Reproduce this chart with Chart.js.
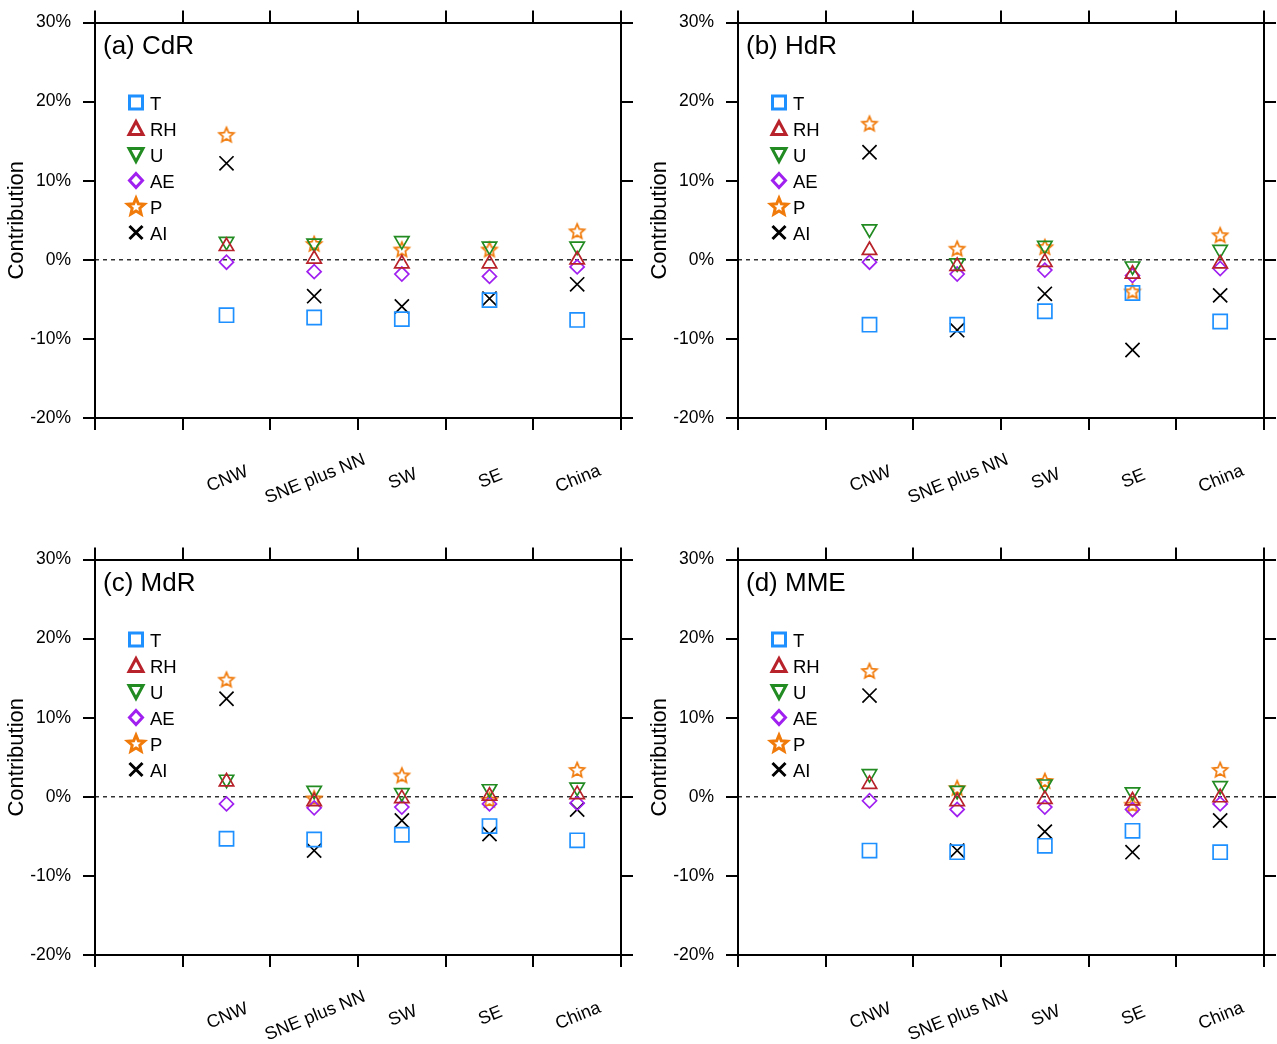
<!DOCTYPE html>
<html>
<head>
<meta charset="utf-8">
<script src="https://cdn.jsdelivr.net/npm/chart.js@4.4.0/dist/chart.umd.min.js"></script>
<style>
  html, body { margin: 0; padding: 0; background: #fff; }
  #wrap { position: relative; width: 1277px; height: 1044px; overflow: hidden; background: #fff; }
  canvas { position: absolute; display: block; }
</style>
</head>
<body>
<div id="wrap">
  <canvas id="cdr" width="640" height="522" style="left:0;top:0"></canvas>
  <canvas id="hdr" width="634" height="522" style="left:643px;top:0"></canvas>
  <canvas id="mdr" width="640" height="507" style="left:0;top:537px"></canvas>
  <canvas id="mme" width="634" height="507" style="left:643px;top:537px"></canvas>
</div>
<script>
// categories and tick labels
const categories = ['CNW', 'SNE plus NN', 'SW', 'SE', 'China']
const yTickValues = [-20, -10, 0, 10, 20, 30]
const varNames = ['T', 'RH', 'U', 'AE', 'P', 'AI']

// (a) CdR, contribution in %
const cdrT = [-7.0, -7.3, -7.5, -5.1, -7.6]
const cdrRH = [1.7, 0.1, -0.5, -0.5, 0.0]
const cdrU = [2.3, 2.1, 2.4, 1.7, 1.7]
const cdrAE = [-0.3, -1.5, -1.8, -2.1, -0.9]
const cdrP = [15.8, 2.0, 1.3, 1.3, 3.6]
const cdrAI = [12.2, -4.6, -5.9, -4.9, -3.1]

// (b) HdR
const hdrT = [-8.2, -8.2, -6.5, -4.2, -7.8]
const hdrRH = [1.2, -0.8, -0.3, -1.8, -0.5]
const hdrU = [3.9, -0.4, 1.8, -0.8, 1.3]
const hdrAE = [-0.3, -1.8, -1.3, -2.0, -1.1]
const hdrP = [17.2, 1.4, 1.6, -4.0, 3.1]
const hdrAI = [13.6, -8.9, -4.3, -11.4, -4.5]

// (c) MdR
const mdrT = [-5.3, -5.4, -4.8, -3.7, -5.5]
const mdrRH = [1.9, -0.6, -0.2, 0.1, 0.3]
const mdrU = [2.2, 0.8, 0.5, 1.0, 1.2]
const mdrAE = [-0.9, -1.4, -1.3, -0.9, -0.8]
const mdrP = [14.8, -0.2, 2.7, -0.4, 3.4]
const mdrAI = [12.4, -6.8, -3.0, -4.7, -1.6]

// (d) MME
const mmeT = [-6.8, -7.0, -6.2, -4.3, -7.0]
const mmeRH = [1.6, -0.6, -0.3, -0.5, -0.1]
const mmeU = [2.9, 0.8, 1.6, 0.6, 1.4]
const mmeAE = [-0.5, -1.6, -1.3, -1.6, -0.9]
const mmeP = [15.9, 1.1, 2.0, -1.0, 3.4]
const mmeAI = [12.8, -6.8, -4.4, -7.0, -3.0]

const FONT = "'Liberation Sans', Arial, Helvetica, sans-serif"

function starPath(g, cx, cy, ro, ri) {
  g.beginPath()
  for (let k = 0; k < 10; k++) {
    const r = k % 2 ? ri : ro
    const a = -Math.PI / 2 + k * Math.PI / 5
    const px = cx + r * Math.cos(a)
    const py = cy + r * Math.sin(a)
    if (k) g.lineTo(px, py); else g.moveTo(px, py)
  }
  g.closePath()
}

function starCanvas(color) {
  const c = document.createElement('canvas')
  c.width = 20
  c.height = 20
  const g = c.getContext('2d')
  starPath(g, 10, 10.5, 7.8, 3.6)
  g.lineWidth = 1.7
  g.strokeStyle = color
  g.stroke()
  return c
}

const markers = {
  T: { style: 'rect', radius: 10, rotation: 0, color: '#1E90FF' },
  RH: { style: 'triangle', radius: 8.3, rotation: 0, color: '#B8232B' },
  U: { style: 'triangle', radius: 8.3, rotation: 180, color: '#228B22' },
  AE: { style: 'rectRot', radius: 7, rotation: 0, color: '#A020F0' },
  P: { style: null, radius: 8, rotation: 0, color: '#F07A0A' },
  AI: { style: 'crossRot', radius: 10, rotation: 0, color: '#000000' }
}
markers.P.style = starCanvas(markers.P.color)

// legend marker, drawn bolder than in the plot
function drawLegendMarker(ctx, name, x, y) {
  const m = markers[name]
  ctx.save()
  ctx.strokeStyle = m.color
  ctx.lineWidth = 3
  ctx.beginPath()
  if (name === 'T') {
    ctx.rect(x - 6.5, y - 6.5, 13, 13)
  } else if (name === 'RH') {
    ctx.moveTo(x, y - 7); ctx.lineTo(x + 7, y + 6); ctx.lineTo(x - 7, y + 6); ctx.closePath()
  } else if (name === 'U') {
    ctx.moveTo(x, y + 7); ctx.lineTo(x + 7, y - 6); ctx.lineTo(x - 7, y - 6); ctx.closePath()
  } else if (name === 'AE') {
    ctx.moveTo(x, y - 7); ctx.lineTo(x + 6.5, y); ctx.lineTo(x, y + 7); ctx.lineTo(x - 6.5, y); ctx.closePath()
  } else if (name === 'P') {
    starPath(ctx, x, y + 0.5, 8.8, 4)
  } else {
    ctx.moveTo(x - 6.5, y - 6.5); ctx.lineTo(x + 6.5, y + 6.5)
    ctx.moveTo(x + 6.5, y - 6.5); ctx.lineTo(x - 6.5, y + 6.5)
  }
  ctx.stroke()
  ctx.restore()
}

function frameGrid() {
  return { drawOnChartArea: false, drawTicks: true, tickLength: 12, lineWidth: 2, color: '#000', tickColor: '#000' }
}
function frameBorder() {
  return { display: true, color: '#000', width: 2 }
}

function makePanel(id, title, series, bottomH, rightW) {
  const datasets = varNames.map((name, k) => {
    const m = markers[name]
    return {
      label: name,
      data: series[k].map((v, i) => ({ x: i + 1.5, y: v })),
      xAxisID: 'x',
      yAxisID: 'y',
      showLine: false,
      pointStyle: m.style,
      pointRadius: m.radius,
      pointRotation: m.rotation,
      pointBorderColor: m.color,
      pointBackgroundColor: 'rgba(0,0,0,0)',
      pointBorderWidth: 1.7
    }
  })

  const decor = {
    id: 'decor',
    beforeDatasetsDraw(chart) {
      const { ctx, chartArea, scales } = chart
      const y0 = scales.y.getPixelForValue(0)
      ctx.save()
      ctx.setLineDash([4, 4])
      ctx.lineWidth = 1.2
      ctx.strokeStyle = '#000'
      ctx.beginPath()
      ctx.moveTo(chartArea.left, y0)
      ctx.lineTo(chartArea.right, y0)
      ctx.stroke()
      ctx.restore()
    },
    afterDraw(chart) {
      const { ctx, chartArea, scales } = chart
      ctx.save()
      ctx.fillStyle = '#000'
      // panel title
      ctx.font = '26px ' + FONT
      ctx.textAlign = 'left'
      ctx.textBaseline = 'alphabetic'
      ctx.fillText(title, chartArea.left + 8, chartArea.top + 31)
      // legend
      ctx.font = '18.5px ' + FONT
      varNames.forEach((name, k) => {
        const y = chartArea.top + 80 + k * 26
        drawLegendMarker(ctx, name, chartArea.left + 41, y)
        ctx.fillText(name, chartArea.left + 55, y + 7.5)
      })
      // rotated category labels
      ctx.font = '18px ' + FONT
      ctx.textAlign = 'center'
      ctx.textBaseline = 'middle'
      categories.forEach((c, i) => {
        const x = scales.x.getPixelForValue(i + 1.5)
        ctx.save()
        ctx.translate(x + 1, chartArea.bottom + 61)
        ctx.rotate(-22 * Math.PI / 180)
        ctx.fillText(c, 0, 0)
        ctx.restore()
      })
      ctx.restore()
    }
  }

  return new Chart(document.getElementById(id), {
    type: 'scatter',
    data: { datasets },
    plugins: [decor],
    options: {
      responsive: false,
      animation: false,
      events: [],
      layout: { padding: 0 },
      plugins: { legend: { display: false }, tooltip: { enabled: false } },
      scales: {
        x: {
          type: 'linear', position: 'bottom', min: 0, max: 6,
          ticks: { display: false, stepSize: 1 },
          grid: frameGrid(), border: frameBorder(),
          afterFit: (s) => { s.height = bottomH }
        },
        xTop: {
          type: 'linear', position: 'top', min: 0, max: 6,
          ticks: { display: false, stepSize: 1 },
          grid: frameGrid(), border: frameBorder(),
          afterFit: (s) => { s.height = 21 }
        },
        y: {
          type: 'linear', position: 'left', min: -20, max: 30,
          afterBuildTicks: (s) => { s.ticks = yTickValues.map((v) => ({ value: v })) },
          ticks: { callback: (v) => v + '%', color: '#000', padding: 12, font: { family: FONT, size: 17.5 } },
          title: { display: true, text: 'Contribution', color: '#000', padding: { top: 4, bottom: 0 }, font: { family: FONT, size: 22 } },
          grid: frameGrid(), border: frameBorder(),
          afterFit: (s) => { s.width = 95 }
        },
        yRight: {
          type: 'linear', position: 'right', min: -20, max: 30,
          afterBuildTicks: (s) => { s.ticks = yTickValues.map((v) => ({ value: v })) },
          ticks: { display: false },
          grid: frameGrid(), border: frameBorder(),
          afterFit: (s) => { s.width = rightW }
        }
      }
    }
  })
}

makePanel('cdr', '(a) CdR', [cdrT, cdrRH, cdrU, cdrAE, cdrP, cdrAI], 104, 19)
makePanel('hdr', '(b) HdR', [hdrT, hdrRH, hdrU, hdrAE, hdrP, hdrAI], 104, 13)
makePanel('mdr', '(c) MdR', [mdrT, mdrRH, mdrU, mdrAE, mdrP, mdrAI], 89, 19)
makePanel('mme', '(d) MME', [mmeT, mmeRH, mmeU, mmeAE, mmeP, mmeAI], 89, 13)
</script>
</body>
</html>
